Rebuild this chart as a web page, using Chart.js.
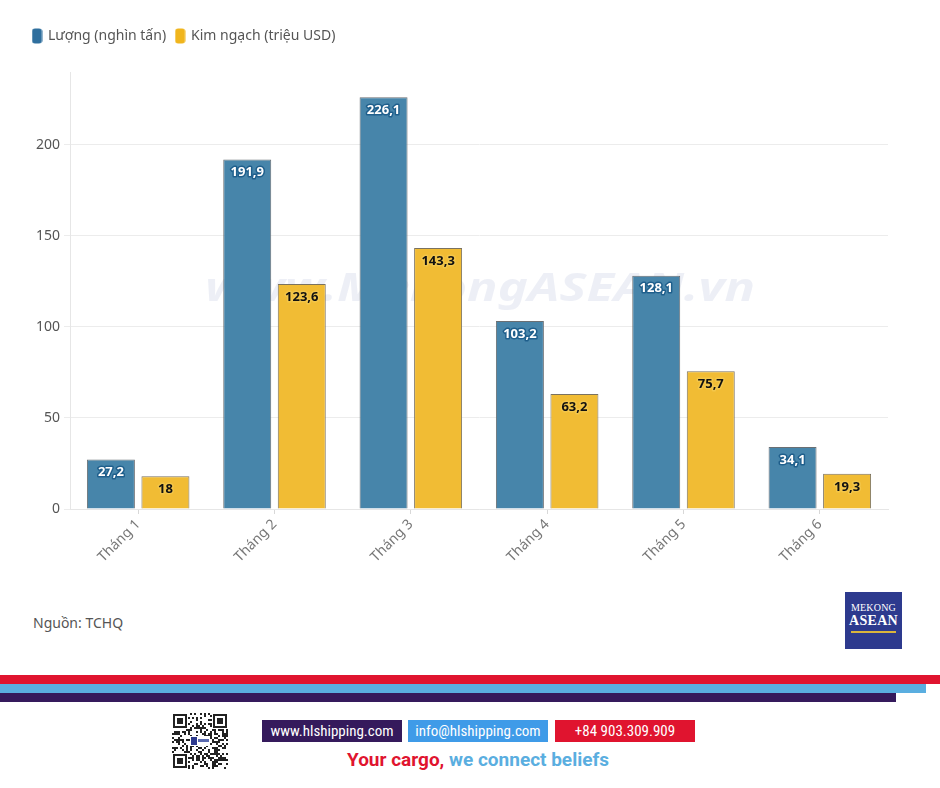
<!DOCTYPE html>
<html>
<head>
<meta charset="utf-8">
<script src="https://cdn.jsdelivr.net/npm/chart.js@4.4.1/dist/chart.umd.min.js"></script>
<style>
  html, body { margin: 0; padding: 0; background: #fff; width: 940px; height: 788px; overflow: hidden; position: relative; font-family: "Noto Sans", sans-serif; }
  #wrap { position: absolute; left: 0; top: 0; width: 940px; height: 590px; }
  .source { position: absolute; left: 33px; top: 613px; font-size: 14px; color: #555; font-family: "Noto Sans", sans-serif; }
  .logo { position: absolute; left: 845px; top: 592px; width: 57px; height: 57px; background: #2d3a8e; color: #fff; text-align: center; font-family: "Liberation Serif", serif; }
  .logo .l1 { position: absolute; top: 10px; left: 0; width: 57px; font-size: 10px; letter-spacing: 0.2px; }
  .logo .l2 { position: absolute; top: 21px; left: 0; width: 57px; font-size: 14px; font-weight: bold; letter-spacing: 0.3px; }
  .logo .l3 { position: absolute; top: 39px; left: 6px; width: 45px; height: 2px; background: #d9b53c; }
  .stripe { position: absolute; left: 0; }
  .box { position: absolute; top: 720px; height: 22px; line-height: 22px; color: #fff; font-size: 15px; font-family: "Liberation Sans Narrow", "Roboto Condensed", Roboto, sans-serif; text-align: center; }
  .slogan { position: absolute; left: 300px; width: 356px; top: 748px; text-align: center; font-family: "Liberation Sans Narrow", Roboto, sans-serif; font-weight: bold; font-size: 19px; }
</style>
</head>
<body>
<div id="wrap"><canvas id="c" width="940" height="590"></canvas></div>
<div class="source">Nguồn: TCHQ</div>
<div class="logo"><div class="l1">MEKONG</div><div class="l2">ASEAN</div><div class="l3"></div></div>
<div class="stripe" style="top:675px;width:940px;height:9px;background:#e0142f;"></div>
<div class="stripe" style="top:684px;width:926px;height:9px;background:#5aaee0;"></div>
<div class="stripe" style="top:693px;width:896px;height:9px;background:#351a5c;"></div>
<canvas id="qr" width="56" height="56" style="position:absolute;left:172px;top:713px;"></canvas>
<div class="box" style="left:262px;width:140px;background:#351a5c;">www.hlshipping.com</div>
<div class="box" style="left:408px;width:140px;background:#3f9be8;">info@hlshipping.com</div>
<div class="box" style="left:555px;width:140px;background:#e0142f;">+84 903.309.909</div>
<div class="slogan"><span style="color:#e0142f">Your cargo,</span> <span style="color:#5aaee0">we connect beliefs</span></div>
<script>
// ---- Data ----
const categories = ["Tháng 1", "Tháng 2", "Tháng 3", "Tháng 4", "Tháng 5", "Tháng 6"];
const seriesNames = ["Lượng (nghìn tấn)", "Kim ngạch (triệu USD)"];
const luong = [27.2, 191.9, 226.1, 103.2, 128.1, 34.1];
const kimNgach = [18, 123.6, 143.3, 63.2, 75.7, 19.3];
const yTicks = [0, 50, 100, 150, 200];

const BLUE = '#4785aa';
const YELLOW = '#f1bc34';

// legend markers (rounded, taller than wide)
function marker(color) {
  const c = document.createElement('canvas');
  c.width = 11; c.height = 16;
  const x = c.getContext('2d');
  x.fillStyle = color;
  x.beginPath();
  x.roundRect(0.5, 0.5, 10, 15, 3);
  x.fill();
  return c;
}
const markers = [marker('#2f6f9e'), marker('#f0b51d')];

// QR-like decorative pattern (deterministic)
(function () {
  const q = document.getElementById('qr').getContext('2d');
  q.fillStyle = '#fff'; q.fillRect(0, 0, 56, 56);
  q.fillStyle = '#222';
  const n = 28, s = 2;
  for (let r = 0; r < n; r++) for (let c = 0; c < n; c++) {
    const h = ((r * 73856093) ^ (c * 19349663) ^ (r * c * 83492791)) >>> 0;
    if (h % 7 < 3) q.fillRect(c * s, r * s, s, s);
  }
  function finder(x, y) {
    q.fillStyle = '#fff'; q.fillRect(x - 1, y - 1, 16, 16);
    q.fillStyle = '#222'; q.fillRect(x, y, 14, 14);
    q.fillStyle = '#fff'; q.fillRect(x + 2, y + 2, 10, 10);
    q.fillStyle = '#222'; q.fillRect(x + 4, y + 4, 6, 6);
  }
  finder(1, 1); finder(41, 1); finder(1, 41);
  q.fillStyle = '#fff'; q.fillRect(18, 23, 20, 10);
  q.fillStyle = '#2d3a8e'; q.fillRect(19, 24, 6, 8);
  q.fillStyle = '#5a6ab0'; q.fillRect(26, 26, 11, 3);
})();

const watermark = {
  id: 'watermark',
  beforeDatasetsDraw(chart) {
    const ctx = chart.ctx;
    ctx.save();
    ctx.font = 'italic bold 40px "Noto Sans", sans-serif';
    const w = ctx.measureText('www.MekongASEAN.vn').width;
    ctx.translate(480, 290);
    ctx.scale(550 / w, 1);
    ctx.fillStyle = 'rgba(222,225,238,0.55)';
    ctx.textAlign = 'center';
    ctx.textBaseline = 'middle';
    ctx.fillText('www.MekongASEAN.vn', 0, 0);
    ctx.restore();
  }
};

const barLabels = {
  id: 'barLabels',
  afterDatasetsDraw(chart) {
    const ctx = chart.ctx;
    ctx.save();
    ctx.font = 'bold 13px "Noto Sans", sans-serif';
    ctx.textAlign = 'center';
    ctx.textBaseline = 'middle';
    ctx.lineJoin = 'round';
    chart.data.datasets.forEach((ds, di) => {
      const meta = chart.getDatasetMeta(di);
      meta.data.forEach((bar, i) => {
        const txt = String(ds.data[i]).replace('.', ',');
        const y = bar.y + 13;
        ctx.lineWidth = 3;
        ctx.strokeStyle = di === 0 ? '#1f5f8c' : '#f3c64a';
        ctx.strokeText(txt, bar.x, y);
        ctx.fillStyle = di === 0 ? '#ffffff' : '#111111';
        ctx.fillText(txt, bar.x, y);
      });
    });
    ctx.restore();
  }
};

const legendHeight = {
  id: 'legendHeight',
  beforeInit(chart) {
    const origFit = chart.legend.fit;
    chart.legend.fit = function () {
      origFit.bind(chart.legend)();
      this.height = 53;
    };
  }
};

new Chart(document.getElementById('c'), {
  type: 'bar',
  data: {
    labels: categories,
    datasets: [
      { label: seriesNames[0], data: luong, backgroundColor: BLUE, borderColor: '#6a6f73', borderWidth: 1 },
      { label: seriesNames[1], data: kimNgach, backgroundColor: YELLOW, borderColor: '#7a7260', borderWidth: 1 }
    ]
  },
  options: {
    responsive: false,
    animation: false,
    layout: { padding: { left: 23, right: 52, top: 19, bottom: 11 } },
    datasets: { bar: { categoryPercentage: 0.8, barPercentage: 0.88 } },
    plugins: {
      tooltip: { enabled: false },
      legend: {
        position: 'top',
        align: 'start',
        labels: {
          usePointStyle: true,
          boxWidth: 8,
          boxHeight: 14,
          color: '#555',
          font: { family: '"Noto Sans", sans-serif', size: 14 },
          padding: 10,
          generateLabels(chart) {
            const items = Chart.defaults.plugins.legend.labels.generateLabels(chart);
            items.forEach((it, i) => { it.pointStyle = markers[i]; });
            return items;
          }
        }
      }
    },
    scales: {
      x: {
        grid: { drawOnChartArea: false, offset: false, tickLength: 5, color: '#d8d8d8' },
        border: { color: '#e6e6e6' },
        ticks: { color: '#777', font: { family: '"Noto Sans", sans-serif', size: 14 }, minRotation: 45, maxRotation: 45, padding: 2 },
        afterFit(s) { s.height = 70; }
      },
      y: {
        min: 0, max: 240,
        grid: { color: '#ececec', tickLength: 6 },
        border: { color: '#e6e6e6' },
        afterBuildTicks(s) { s.ticks = yTicks.map(v => ({ value: v })); },
        ticks: { color: '#555', font: { family: '"Noto Sans", sans-serif', size: 14 }, padding: 4 },
        afterFit(s) { s.width = 47; }
      }
    }
  },
  plugins: [legendHeight, watermark, barLabels]
});
</script>
</body>
</html>
